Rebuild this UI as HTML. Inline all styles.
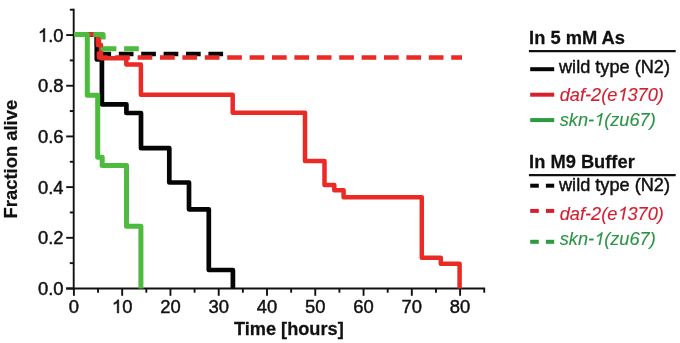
<!DOCTYPE html>
<html><head><meta charset="utf-8"><style>
html,body{margin:0;padding:0;background:#fff;}
svg{display:block;will-change:transform;}
text{font-family:"Liberation Sans",sans-serif;stroke-width:0.45px;stroke-linejoin:round;}
.tl{font-size:18.4px;}
.lh{font-size:18.3px;font-weight:bold;}
.lt{font-size:18.15px;}
.li{font-size:18.2px;font-style:italic;}
.at{font-size:18.4px;font-weight:bold;}
.h{fill:none!important;stroke:none!important;}
</style></head><body>
<svg width="680" height="343" viewBox="0 0 680 343">
<rect width="680" height="343" fill="#fff"/>
<line x1="73.70" y1="8.8" x2="73.70" y2="289.45" stroke="#111" stroke-width="1.9"/>
<line x1="66.2" y1="288.5" x2="485" y2="288.5" stroke="#111" stroke-width="1.9"/>
<line x1="66.2" y1="288.50" x2="73.70" y2="288.50" stroke="#111" stroke-width="1.9"/>
<text id="t1" transform="translate(63.60 295.10) scale(1 1.04)" class="tl" text-anchor="end" style="fill:#111;stroke:#111">0.0</text>
<line x1="69.8" y1="263.15" x2="73.70" y2="263.15" stroke="#111" stroke-width="1.9"/>
<line x1="66.2" y1="237.81" x2="73.70" y2="237.81" stroke="#111" stroke-width="1.9"/>
<text id="t2" transform="translate(63.60 244.41) scale(1 1.04)" class="tl" text-anchor="end" style="fill:#111;stroke:#111">0.2</text>
<line x1="69.8" y1="212.47" x2="73.70" y2="212.47" stroke="#111" stroke-width="1.9"/>
<line x1="66.2" y1="187.12" x2="73.70" y2="187.12" stroke="#111" stroke-width="1.9"/>
<text id="t3" transform="translate(63.60 193.72) scale(1 1.04)" class="tl" text-anchor="end" style="fill:#111;stroke:#111">0.4</text>
<line x1="69.8" y1="161.78" x2="73.70" y2="161.78" stroke="#111" stroke-width="1.9"/>
<line x1="66.2" y1="136.43" x2="73.70" y2="136.43" stroke="#111" stroke-width="1.9"/>
<text id="t4" transform="translate(63.60 143.03) scale(1 1.04)" class="tl" text-anchor="end" style="fill:#111;stroke:#111">0.6</text>
<line x1="69.8" y1="111.09" x2="73.70" y2="111.09" stroke="#111" stroke-width="1.9"/>
<line x1="66.2" y1="85.74" x2="73.70" y2="85.74" stroke="#111" stroke-width="1.9"/>
<text id="t5" transform="translate(63.60 92.34) scale(1 1.04)" class="tl" text-anchor="end" style="fill:#111;stroke:#111">0.8</text>
<line x1="69.8" y1="60.40" x2="73.70" y2="60.40" stroke="#111" stroke-width="1.9"/>
<line x1="66.2" y1="35.05" x2="73.70" y2="35.05" stroke="#111" stroke-width="1.9"/>
<text id="t6" transform="translate(63.60 41.65) scale(1 1.04)" class="tl" text-anchor="end" style="fill:#111;stroke:#111"><tspan class="h">1</tspan>.0</text>
<line x1="69.8" y1="9.70" x2="73.70" y2="9.70" stroke="#111" stroke-width="1.9"/>
<line x1="73.90" y1="288" x2="73.90" y2="295.8" stroke="#111" stroke-width="1.9"/>
<text id="t7" transform="translate(73.90 313.00) scale(1 1.04)" class="tl" text-anchor="middle" style="fill:#111;stroke:#111">0</text>
<line x1="98.04" y1="288" x2="98.04" y2="292.7" stroke="#111" stroke-width="1.9"/>
<line x1="122.18" y1="288" x2="122.18" y2="295.8" stroke="#111" stroke-width="1.9"/>
<text id="t8" transform="translate(122.18 313.00) scale(1 1.04)" class="tl" text-anchor="middle" style="fill:#111;stroke:#111"><tspan class="h">1</tspan>0</text>
<line x1="146.31" y1="288" x2="146.31" y2="292.7" stroke="#111" stroke-width="1.9"/>
<line x1="170.45" y1="288" x2="170.45" y2="295.8" stroke="#111" stroke-width="1.9"/>
<text id="t9" transform="translate(170.45 313.00) scale(1 1.04)" class="tl" text-anchor="middle" style="fill:#111;stroke:#111">20</text>
<line x1="194.59" y1="288" x2="194.59" y2="292.7" stroke="#111" stroke-width="1.9"/>
<line x1="218.72" y1="288" x2="218.72" y2="295.8" stroke="#111" stroke-width="1.9"/>
<text id="t10" transform="translate(218.72 313.00) scale(1 1.04)" class="tl" text-anchor="middle" style="fill:#111;stroke:#111">30</text>
<line x1="242.86" y1="288" x2="242.86" y2="292.7" stroke="#111" stroke-width="1.9"/>
<line x1="267.00" y1="288" x2="267.00" y2="295.8" stroke="#111" stroke-width="1.9"/>
<text id="t11" transform="translate(267.00 313.00) scale(1 1.04)" class="tl" text-anchor="middle" style="fill:#111;stroke:#111">40</text>
<line x1="291.14" y1="288" x2="291.14" y2="292.7" stroke="#111" stroke-width="1.9"/>
<line x1="315.27" y1="288" x2="315.27" y2="295.8" stroke="#111" stroke-width="1.9"/>
<text id="t12" transform="translate(315.27 313.00) scale(1 1.04)" class="tl" text-anchor="middle" style="fill:#111;stroke:#111">50</text>
<line x1="339.41" y1="288" x2="339.41" y2="292.7" stroke="#111" stroke-width="1.9"/>
<line x1="363.55" y1="288" x2="363.55" y2="295.8" stroke="#111" stroke-width="1.9"/>
<text id="t13" transform="translate(363.55 313.00) scale(1 1.04)" class="tl" text-anchor="middle" style="fill:#111;stroke:#111">60</text>
<line x1="387.69" y1="288" x2="387.69" y2="292.7" stroke="#111" stroke-width="1.9"/>
<line x1="411.82" y1="288" x2="411.82" y2="295.8" stroke="#111" stroke-width="1.9"/>
<text id="t14" transform="translate(411.82 313.00) scale(1 1.04)" class="tl" text-anchor="middle" style="fill:#111;stroke:#111">70</text>
<line x1="435.96" y1="288" x2="435.96" y2="292.7" stroke="#111" stroke-width="1.9"/>
<line x1="460.10" y1="288" x2="460.10" y2="295.8" stroke="#111" stroke-width="1.9"/>
<text id="t15" transform="translate(460.10 313.00) scale(1 1.04)" class="tl" text-anchor="middle" style="fill:#111;stroke:#111">80</text>
<line x1="484.24" y1="288" x2="484.24" y2="292.7" stroke="#111" stroke-width="1.9"/>
<path d="M74,34.6 H96.8 V59.5 H101.9 V104.3 H126.4 V113 H141 V148.2 H169.3 V182.5 H189 V209.3 H208.8 V270 H232.9 V288.5" fill="none" stroke="#050505" stroke-width="4.7" stroke-linejoin="round" />
<path d="M74,34.6 H97 V54 H225" fill="none" stroke="#050505" stroke-width="4.7" stroke-linejoin="round" stroke-dasharray="14.7 7.7" stroke-dashoffset="3"/>
<path d="M74,34.6 H97.8 V45 H101 V58.2 H126.3 V64.4 H140.9 V94.7 H232.7 V112.8 H305 V161 H324.5 V185 H334.3 V190.2 H343.6 V197.2 H421.8 V257.7 H440.8 V263.8 H459.6 V288.5" fill="none" stroke="#ea2a25" stroke-width="4.5" stroke-linejoin="round" />
<path d="M74,34.6 H99 V57.6 H462" fill="none" stroke="#ea2a25" stroke-width="4.5" stroke-linejoin="round" stroke-dasharray="14.7 7.7" stroke-dashoffset="3"/>
<path d="M74,34.6 H87.3 V95.2 H97.7 V157.3 H102.2 V165.5 H126.5 V226.2 H140.9 V288.5" fill="none" stroke="#4cbb3e" stroke-width="5.0" stroke-linejoin="round" />
<path d="M74,34.6 H103.1 V48.7 H141" fill="none" stroke="#4cbb3e" stroke-width="5.0" stroke-linejoin="round" stroke-dasharray="14.7 7.7" stroke-dashoffset="3"/>
<text id="t16" transform="translate(529.10 44.20) scale(1 1.02)" class="lh" text-anchor="start" style="fill:#111;stroke:#111;stroke-width:0.25px">In 5 mM As</text>
<line x1="528.9" y1="51.2" x2="675.7" y2="51.2" stroke="#111" stroke-width="2.2"/>
<line x1="530.2" y1="69.2" x2="554.2" y2="69.2" stroke="#050505" stroke-width="4"/>
<text id="t17" transform="translate(559.00 72.60) scale(1 1.02)" class="lt" text-anchor="start" style="fill:#111;stroke:#111">wild type (N2)</text>
<line x1="530.2" y1="94.7" x2="554.2" y2="94.7" stroke="#d81f2e" stroke-width="4"/>
<text id="t18" transform="translate(559.70 100.80) scale(1 1.02)" class="li" text-anchor="start" style="fill:#d21f33;stroke:#d21f33;stroke-width:0.15px">daf-2(e<tspan class="h">1</tspan>370)</text>
<line x1="530.2" y1="120.1" x2="554.2" y2="120.1" stroke="#2a9b40" stroke-width="4"/>
<text id="t19" transform="translate(559.70 125.70) scale(1 1.02)" class="li" text-anchor="start" style="fill:#2b9545;stroke:#2b9545;stroke-width:0.15px">skn-<tspan class="h">1</tspan>(zu67)</text>
<text id="t20" transform="translate(529.10 168.00) scale(1 1.02)" class="lh" text-anchor="start" style="fill:#111;stroke:#111;stroke-width:0.25px">In M9 Buffer</text>
<line x1="528.9" y1="175.1" x2="675.7" y2="175.1" stroke="#111" stroke-width="2.2"/>
<line x1="530.2" y1="185.7" x2="538.8" y2="185.7" stroke="#050505" stroke-width="4"/>
<line x1="545.9" y1="185.7" x2="554.2" y2="185.7" stroke="#050505" stroke-width="4"/>
<text id="t21" transform="translate(559.00 191.20) scale(1 1.02)" class="lt" text-anchor="start" style="fill:#111;stroke:#111">wild type (N2)</text>
<line x1="530.2" y1="210.9" x2="538.8" y2="210.9" stroke="#d81f2e" stroke-width="4"/>
<line x1="545.9" y1="210.9" x2="554.2" y2="210.9" stroke="#d81f2e" stroke-width="4"/>
<text id="t22" transform="translate(559.70 219.50) scale(1 1.02)" class="li" text-anchor="start" style="fill:#d21f33;stroke:#d21f33;stroke-width:0.15px">daf-2(e<tspan class="h">1</tspan>370)</text>
<line x1="530.2" y1="241.8" x2="538.8" y2="241.8" stroke="#2a9b40" stroke-width="4"/>
<line x1="545.9" y1="241.8" x2="554.2" y2="241.8" stroke="#2a9b40" stroke-width="4"/>
<text id="t23" transform="translate(559.70 245.10) scale(1 1.02)" class="li" text-anchor="start" style="fill:#2b9545;stroke:#2b9545;stroke-width:0.15px">skn-<tspan class="h">1</tspan>(zu67)</text>
<text id="t24" transform="translate(288.80 334.90) scale(1 1.02)" class="at" text-anchor="middle" style="fill:#111;stroke:#111;font-size:18.2px;stroke-width:0.25px">Time [hours]</text>
<text id="t25" transform="translate(16.50 159.10) rotate(-90) scale(1 1.02)" class="at" text-anchor="middle" style="fill:#111;stroke:#111;stroke-width:0.25px">Fraction alive</text>
<path transform="translate(63.60 41.65) scale(1 1.04)" d="M-18.72,0.00 L-20.34,0.00 L-20.34,-9.79 C-20.82,-9.34 -21.98,-8.76 -23.65,-8.13 L-23.65,-9.60 C-21.98,-10.20 -20.59,-11.32 -19.96,-12.66 L-18.72,-12.66 Z" style="fill:rgb(17, 17, 17);stroke:rgb(17, 17, 17);stroke-width:0.45px;stroke-linejoin:round"/>
<path transform="translate(122.18 313.00) scale(1 1.04)" d="M-3.38,0.00 L-4.99,0.00 L-4.99,-9.79 C-5.47,-9.34 -6.64,-8.76 -8.30,-8.13 L-8.30,-9.60 C-6.64,-10.20 -5.24,-11.32 -4.62,-12.66 L-3.38,-12.66 Z" style="fill:rgb(17, 17, 17);stroke:rgb(17, 17, 17);stroke-width:0.45px;stroke-linejoin:round"/>
<path transform="translate(559.70 100.80) scale(1 1.02)" d="M63.81,0.00 L62.21,0.00 L64.15,-9.69 C63.59,-9.24 62.32,-8.66 60.55,-8.04 L60.84,-9.49 C62.60,-10.09 64.20,-11.20 65.09,-12.52 L66.32,-12.52 Z" style="fill:rgb(210, 31, 51);stroke:rgb(210, 31, 51);stroke-width:0.15px;stroke-linejoin:round"/>
<path transform="translate(559.70 125.70) scale(1 1.02)" d="M40.53,0.00 L38.93,0.00 L40.87,-9.69 C40.31,-9.24 39.04,-8.66 37.27,-8.04 L37.56,-9.49 C39.32,-10.09 40.92,-11.20 41.81,-12.52 L43.04,-12.52 Z" style="fill:rgb(43, 149, 69);stroke:rgb(43, 149, 69);stroke-width:0.15px;stroke-linejoin:round"/>
<path transform="translate(559.70 219.50) scale(1 1.02)" d="M63.81,0.00 L62.21,0.00 L64.15,-9.69 C63.59,-9.24 62.32,-8.66 60.55,-8.04 L60.84,-9.49 C62.60,-10.09 64.20,-11.20 65.09,-12.52 L66.32,-12.52 Z" style="fill:rgb(210, 31, 51);stroke:rgb(210, 31, 51);stroke-width:0.15px;stroke-linejoin:round"/>
<path transform="translate(559.70 245.10) scale(1 1.02)" d="M40.53,0.00 L38.93,0.00 L40.87,-9.69 C40.31,-9.24 39.04,-8.66 37.27,-8.04 L37.56,-9.49 C39.32,-10.09 40.92,-11.20 41.81,-12.52 L43.04,-12.52 Z" style="fill:rgb(43, 149, 69);stroke:rgb(43, 149, 69);stroke-width:0.15px;stroke-linejoin:round"/>
</svg>
</body></html>
